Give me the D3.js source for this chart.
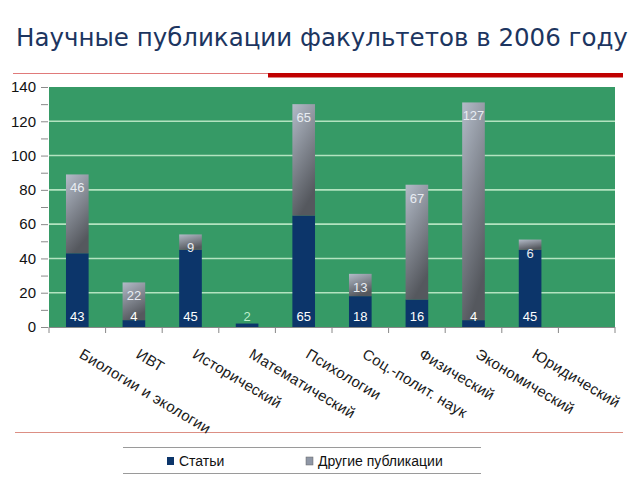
<!DOCTYPE html>
<meta charset="utf-8">
<style>
 body { margin: 0; background: #fff; }
 .axis text { font: 15px "Liberation Sans", Arial, sans-serif; fill: #111; }
 .catlabel { font: 15px "Liberation Sans", Arial, sans-serif; fill: #1a1a1a; }
 .vlabel { font: 13px "Liberation Sans", Arial, sans-serif; }
 .legend text { font: 14px "Liberation Sans", Arial, sans-serif; fill: #111; }
</style>
<body>
<svg width="640" height="480"></svg>
<script src="https://d3js.org/d3.v7.min.js"></script>
<script>

 var categories = ["Биологии и экологии", "ИВТ", "Исторический", "Математический",
                   "Психологии", "Соц.-полит. наук", "Физический", "Экономический",
                   "Юридический", ""];
 var articles = [43, 4, 45, 2, 65, 18, 16, 4, 45];
 var others = [46, 22, 9, 0, 65, 13, 67, 127, 6];
 var yTicks = [0, 20, 40, 60, 80, 100, 120, 140];
 var seriesNames = ["Статьи", "Другие публикации"];

 var svg = d3.select("svg");
 var plot = {left: 49, right: 615, top: 87, bottom: 327};

 var defs = svg.append("defs");
 var grad = defs.append("linearGradient")
     .attr("id", "grayGrad")
     .attr("x1", 0).attr("y1", 0).attr("x2", 0.35).attr("y2", 1);
 grad.append("stop").attr("offset", "0%").attr("stop-color", "#b3bbc8");
 grad.append("stop").attr("offset", "55%").attr("stop-color", "#7f848d");
 grad.append("stop").attr("offset", "100%").attr("stop-color", "#55585e");

 // title + decorative lines
 svg.append("text")
    .attr("x", 16).attr("y", 46)
    .style("font", "24.5px 'DejaVu Sans', Verdana, sans-serif")
    .style("fill", "#1c3560")
    .text("Научные публикации факультетов в 2006 году");

 svg.append("line").attr("x1", 13).attr("x2", 268).attr("y1", 73.5).attr("y2", 73.5)
    .style("stroke", "#e07a7a").style("stroke-width", 1);
 svg.append("rect").attr("x", 268).attr("y", 73).attr("width", 355).attr("height", 4.5)
    .style("fill", "#c00000");
 svg.append("line").attr("x1", 15).attr("x2", 623).attr("y1", 432.5).attr("y2", 432.5)
    .style("stroke", "#dc8f84").style("stroke-width", 1);

 var x = d3.scaleBand()
     .domain(categories.map(function(d, i) { return i; }))
     .range([plot.left, plot.right])
     .padding(0);

 var y = d3.scaleLinear()
     .domain([0, 140])
     .range([plot.bottom, plot.top]);

 var barW = x.bandwidth() * 0.4;

 // plot area
 svg.append("rect")
    .attr("x", plot.left).attr("y", plot.top)
    .attr("width", plot.right - plot.left).attr("height", plot.bottom - plot.top)
    .style("fill", "#369a66");

 svg.append("g").selectAll("line")
    .data(yTicks.filter(function(d) { return d > 0 && d < 140; }))
    .enter().append("line")
    .attr("x1", plot.left).attr("x2", plot.right)
    .attr("y1", function(d) { return y(d); }).attr("y2", function(d) { return y(d); })
    .style("stroke", "#b3e3c0").style("stroke-width", 1.6);

 // y axis
 var yAxis = svg.append("g")
     .attr("class", "axis")
     .attr("transform", "translate(" + (plot.left - 1) + ",0)")
     .call(d3.axisLeft(y).tickValues(d3.range(0, 141, 10)).tickSize(7).tickPadding(5)
           .tickFormat(function(d) { return d % 20 === 0 ? d : ""; }));
 yAxis.select(".domain").remove();
 yAxis.selectAll("line").style("stroke", "#8a8a8a");

 // x axis
 svg.append("line")
    .attr("x1", plot.left).attr("x2", plot.right)
    .attr("y1", plot.bottom + 0.5).attr("y2", plot.bottom + 0.5)
    .style("stroke", "#888");
 svg.append("g").selectAll("line")
    .data(d3.range(categories.length + 1))
    .enter().append("line")
    .attr("x1", function(i) { return plot.left + i * x.step(); })
    .attr("x2", function(i) { return plot.left + i * x.step(); })
    .attr("y1", plot.bottom).attr("y2", plot.bottom + 6)
    .style("stroke", "#888");

 svg.append("g").selectAll("text")
    .data(categories)
    .enter().append("text")
    .attr("class", "catlabel")
    .attr("transform", function(d, i) {
        return "translate(" + (x(i) + x.bandwidth() / 2 + 1) + "," + (plot.bottom + 30) + ") rotate(31)";
    })
    .style("letter-spacing", "0.3px")
    .text(function(d) { return d; });

 // bars
 var bars = svg.append("g");
 articles.forEach(function(a, i) {
     var cx = x(i) + x.bandwidth() / 2;
     bars.append("rect")
         .attr("x", cx - barW / 2).attr("width", barW)
         .attr("y", y(a)).attr("height", y(0) - y(a))
         .style("fill", "#0c356a");
     if (others[i] > 0) {
         bars.append("rect")
             .attr("x", cx - barW / 2).attr("width", barW)
             .attr("y", y(a + others[i])).attr("height", y(a) - y(a + others[i]))
             .style("fill", "url(#grayGrad)");
     }
 });

 var labels = svg.append("g").attr("text-anchor", "middle");
 articles.forEach(function(a, i) {
     var cx = x(i) + x.bandwidth() / 2;
     labels.append("text")
         .attr("class", "vlabel")
         .attr("x", cx).attr("y", plot.bottom - 6)
         .style("fill", i === 3 ? "#bff0cc" : "#ffffff")
         .text(a);
     if (others[i] > 0) {
         labels.append("text")
             .attr("class", "vlabel")
             .attr("x", cx).attr("y", y(a + others[i]) + 18)
             .style("fill", "#e8ecf2")
             .text(others[i]);
     }
 });

 // legend
 var legend = svg.append("g").attr("class", "legend");
 legend.append("line").attr("x1", 123).attr("x2", 481).attr("y1", 447.5).attr("y2", 447.5)
       .style("stroke", "#9a9a9a");
 legend.append("line").attr("x1", 123).attr("x2", 481).attr("y1", 473.5).attr("y2", 473.5)
       .style("stroke", "#9a9a9a");
 var legX = [167, 306];
 var legFill = ["#0c356a", "#8f97a6"];
 seriesNames.forEach(function(name, i) {
     legend.append("rect")
           .attr("x", legX[i]).attr("y", 457).attr("width", 7).attr("height", 8)
           .style("fill", legFill[i]).style("stroke", i ? "#666" : "none").style("stroke-width", 0.5);
     legend.append("text")
           .attr("x", legX[i] + 12).attr("y", 466)
           .text(name);
 });

</script>
</body>
